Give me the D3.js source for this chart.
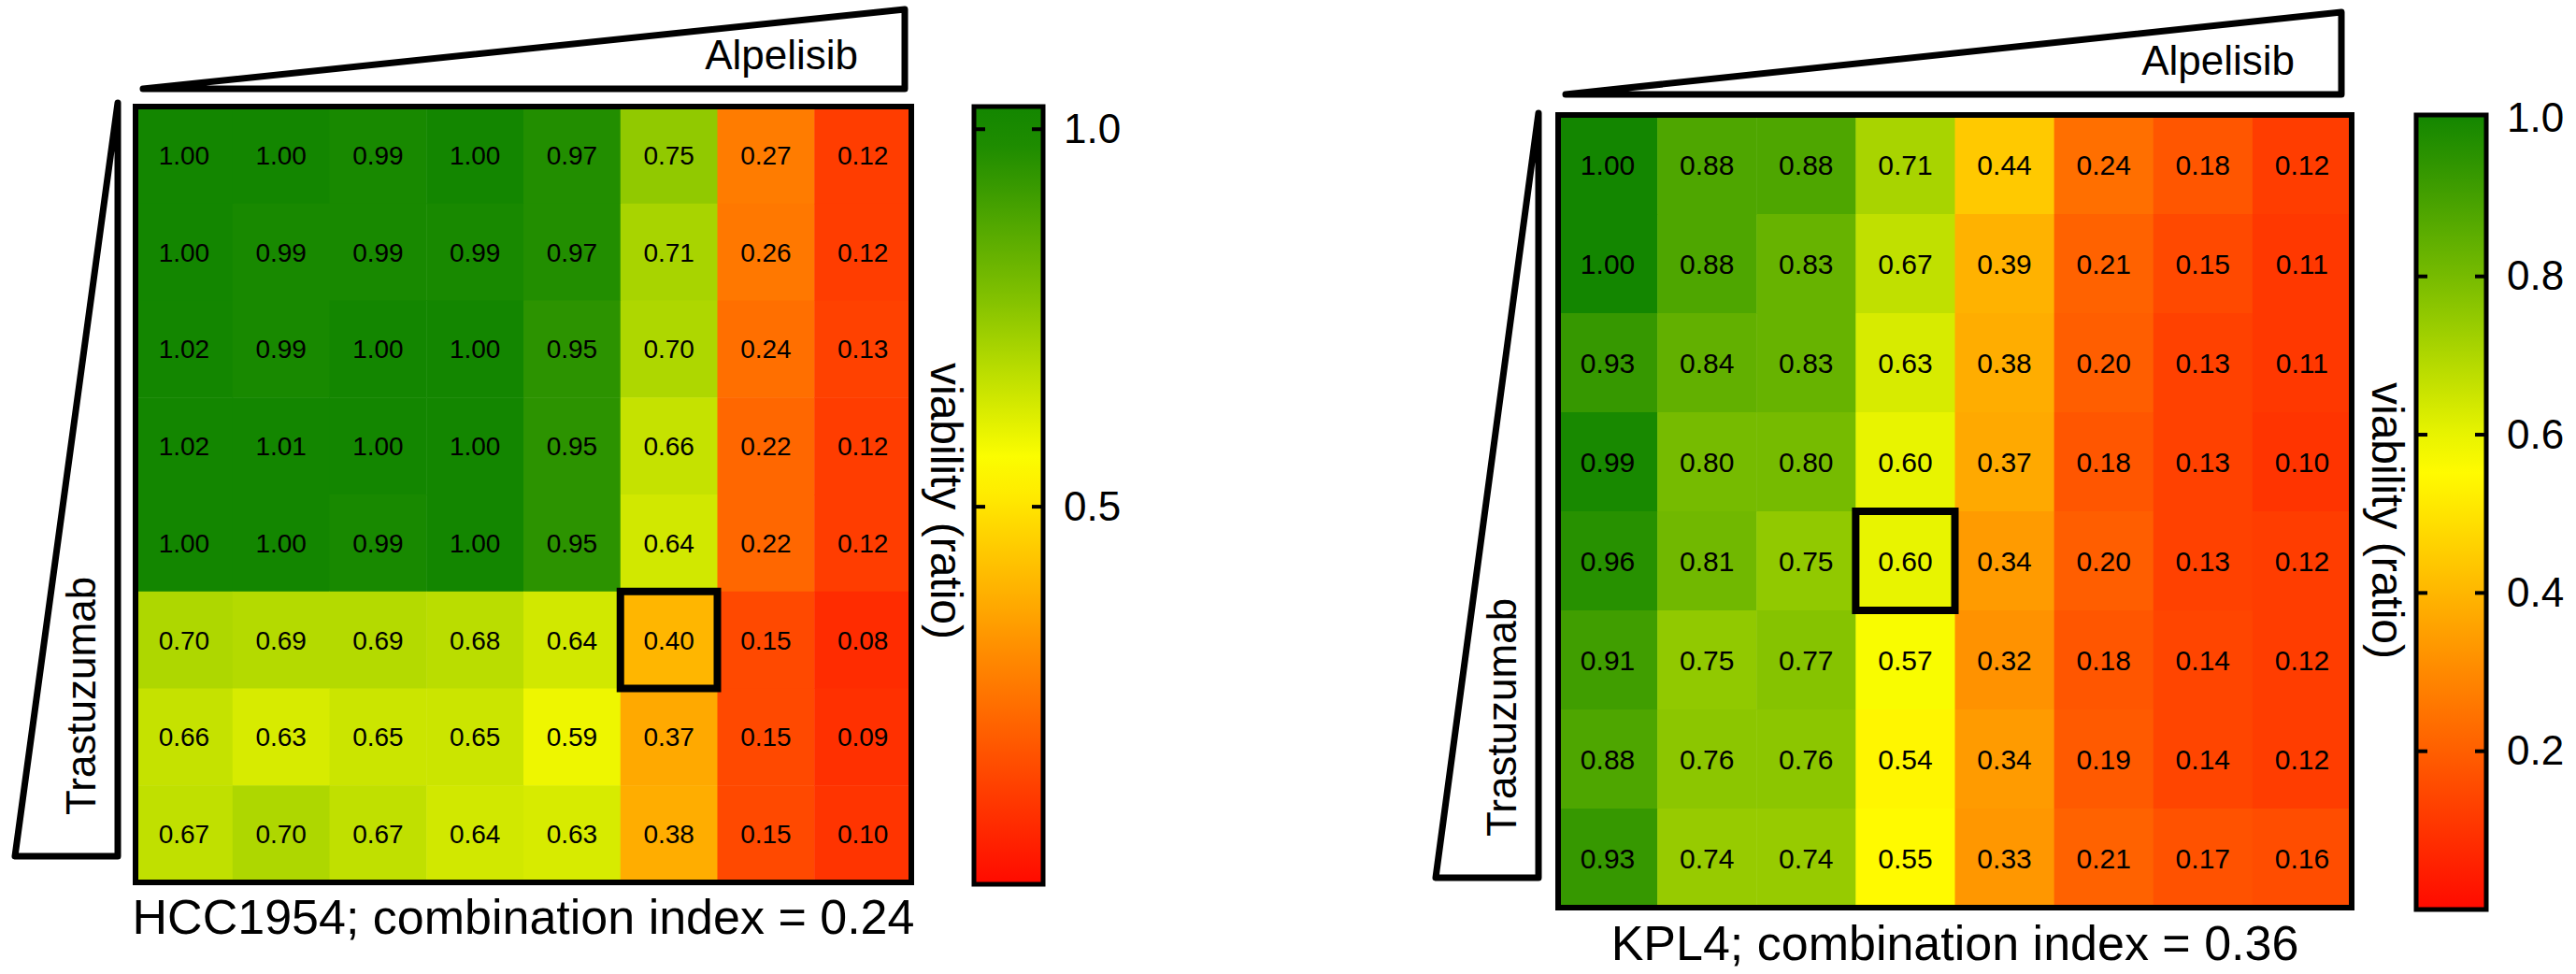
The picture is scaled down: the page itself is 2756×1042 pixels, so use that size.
<!doctype html>
<html lang="en">
<head>
	<meta charset="UTF-8">
	<title>Alpelisib + Trastuzumab viability</title>
	<style type="text/css">
	body{
		margin: 0;
		background: #fff;
	}
	svg text{
		font-family: Arial, "Liberation Sans", sans-serif;
		fill: #000;
	}
	</style>
	<script type="text/javascript" src="https://cdn.jsdelivr.net/npm/d3@7"></script>
</head>
<body>
	<script type="text/javascript">
		// rows = trastuzumab dose (low at top), cols = alpelisib dose (low at left)
		var hccViability = [
			[1.00, 1.00, 0.99, 1.00, 0.97, 0.75, 0.27, 0.12],
			[1.00, 0.99, 0.99, 0.99, 0.97, 0.71, 0.26, 0.12],
			[1.02, 0.99, 1.00, 1.00, 0.95, 0.70, 0.24, 0.13],
			[1.02, 1.01, 1.00, 1.00, 0.95, 0.66, 0.22, 0.12],
			[1.00, 1.00, 0.99, 1.00, 0.95, 0.64, 0.22, 0.12],
			[0.70, 0.69, 0.69, 0.68, 0.64, 0.40, 0.15, 0.08],
			[0.66, 0.63, 0.65, 0.65, 0.59, 0.37, 0.15, 0.09],
			[0.67, 0.70, 0.67, 0.64, 0.63, 0.38, 0.15, 0.10]
		];
		var kplViability = [
			[1.00, 0.88, 0.88, 0.71, 0.44, 0.24, 0.18, 0.12],
			[1.00, 0.88, 0.83, 0.67, 0.39, 0.21, 0.15, 0.11],
			[0.93, 0.84, 0.83, 0.63, 0.38, 0.20, 0.13, 0.11],
			[0.99, 0.80, 0.80, 0.60, 0.37, 0.18, 0.13, 0.10],
			[0.96, 0.81, 0.75, 0.60, 0.34, 0.20, 0.13, 0.12],
			[0.91, 0.75, 0.77, 0.57, 0.32, 0.18, 0.14, 0.12],
			[0.88, 0.76, 0.76, 0.54, 0.34, 0.19, 0.14, 0.12],
			[0.93, 0.74, 0.74, 0.55, 0.33, 0.21, 0.17, 0.16]
		];
		// highlighted [row, col]
		var hccHighlight = [5, 5];
		var kplHighlight = [4, 3];
		var hccTicks = [0.5, 1.0];
		var kplTicks = [0.2, 0.4, 0.6, 0.8, 1.0];
		var hccTitle = 'HCC1954; combination index = 0.24';
		var kplTitle = 'KPL4; combination index = 0.36';

		var W = 2756, H = 1042;

		var color = d3.scaleLinear()
			.domain([0, 0.28, 0.56, 0.78, 1.0])
			.range(['#ff0a00', '#ff8000', '#ffff00', '#80c000', '#138600'])
			.clamp(true);

		var svg = d3.select('body')
					.append('svg')
					.attr('width', W)
					.attr('height', H);

		var defs = svg.append('defs');

		function drawPanel(p){
			var g = svg.append('g');
			var n = p.data.length;
			var x = d3.scaleBand().domain(d3.range(n)).range([p.x0, p.x1]);
			var y = d3.scaleBand().domain(d3.range(n)).range([p.y0, p.y1]);

			var cells = [];
			p.data.forEach(function(row, r){
				row.forEach(function(v, c){
					cells.push({r: r, c: c, v: v});
				});
			});

			g.selectAll('rect.cell')
				.data(cells)
				.enter()
				.append('rect')
				.attr('class', 'cell')
				.attr('x', function(d){ return x(d.c); })
				.attr('y', function(d){ return y(d.r); })
				.attr('width', x.bandwidth() + 0.5)
				.attr('height', y.bandwidth() + 0.5)
				.attr('fill', function(d){ return color(d.v); });

			g.selectAll('text.val')
				.data(cells)
				.enter()
				.append('text')
				.attr('class', 'val')
				.attr('x', function(d){ return x(d.c) + x.bandwidth()/2; })
				.attr('y', function(d){ return y(d.r) + y.bandwidth()/2; })
				.attr('dy', '0.36em')
				.attr('text-anchor', 'middle')
				.attr('font-size', p.valSize)
				.text(function(d){ return d.v.toFixed(2); });

			// heatmap frame
			g.append('rect')
				.attr('x', p.x0).attr('y', p.y0)
				.attr('width', p.x1 - p.x0).attr('height', p.y1 - p.y0)
				.attr('fill', 'none').attr('stroke', '#000').attr('stroke-width', 6);

			// highlighted combination
			g.append('rect')
				.attr('x', x(p.hi[1])).attr('y', y(p.hi[0]))
				.attr('width', x.bandwidth()).attr('height', y.bandwidth())
				.attr('fill', 'none').attr('stroke', '#000').attr('stroke-width', 8);

			// dose wedges
			var a = p.alp;
			g.append('polygon')
				.attr('points', [[a[0], a[3]], [a[1], a[2]], [a[1], a[3]]].join(' '))
				.attr('fill', '#fff').attr('stroke', '#000').attr('stroke-width', 7)
				.attr('stroke-linejoin', 'round');
			g.append('text')
				.attr('x', a[1] - 50).attr('y', a[3] - 21)
				.attr('text-anchor', 'end')
				.attr('font-size', 44)
				.text('Alpelisib');

			var t = p.tra;
			g.append('polygon')
				.attr('points', [[t[1], t[2]], [t[0], t[3]], [t[1], t[3]]].join(' '))
				.attr('fill', '#fff').attr('stroke', '#000').attr('stroke-width', 7)
				.attr('stroke-linejoin', 'round');
			g.append('text')
				.attr('transform', 'translate(' + (t[1] - 24) + ',' + (t[3] - 44) + ') rotate(-90)')
				.attr('text-anchor', 'start')
				.attr('font-size', 44)
				.text('Trastuzumab');

			// colour bar
			var cb = p.cb;
			var cy = d3.scaleLinear().domain(p.cbDomain).range([cb[3], cb[2]]);
			var gid = 'grad' + p.id;
			var grad = defs.append('linearGradient')
				.attr('id', gid)
				.attr('x1', 0).attr('y1', 1).attr('x2', 0).attr('y2', 0);
			grad.selectAll('stop')
				.data(d3.range(0, 1.0001, 0.05))
				.enter()
				.append('stop')
				.attr('offset', function(d){ return d; })
				.attr('stop-color', function(d){
					return color(p.cbDomain[0] + d*(p.cbDomain[1] - p.cbDomain[0]));
				});
			g.append('rect')
				.attr('x', cb[0]).attr('y', cb[2])
				.attr('width', cb[1] - cb[0]).attr('height', cb[3] - cb[2])
				.attr('fill', 'url(#' + gid + ')')
				.attr('stroke', '#000').attr('stroke-width', 5);

			// little inward tick marks on both sides of the bar
			p.ticks.filter(function(v){ return cy(v) > cb[2] + 6; }).forEach(function(v){
				[[cb[0], cb[0] + 12], [cb[1] - 12, cb[1]]].forEach(function(s){
					g.append('line')
						.attr('x1', s[0]).attr('x2', s[1])
						.attr('y1', cy(v)).attr('y2', cy(v))
						.attr('stroke', '#000').attr('stroke-width', 4);
				});
			});

			var axis = d3.axisRight(cy)
				.tickValues(p.ticks)
				.tickFormat(d3.format('.1f'))
				.tickSize(0)
				.tickPadding(0);
			var ax = g.append('g')
				.attr('transform', 'translate(' + (cb[1] + 22) + ',0)')
				.call(axis);
			ax.select('.domain').remove();
			ax.selectAll('text')
				.attr('font-family', 'Arial, "Liberation Sans", sans-serif')
				.attr('font-size', 44)
				.attr('fill', '#000');

			g.append('text')
				.attr('transform', 'translate(' + p.labX + ',' + ((cb[2] + cb[3])/2 + p.labDy) + ') rotate(90)')
				.attr('text-anchor', 'middle')
				.attr('dy', '0.35em')
				.attr('font-size', 48)
				.text('viability (ratio)');

			g.append('text')
				.attr('x', (p.x0 + p.x1)/2)
				.attr('y', p.titleY)
				.attr('text-anchor', 'middle')
				.attr('font-size', 52)
				.text(p.title);
		}

		drawPanel({
			id: 'hcc', data: hccViability, hi: hccHighlight, ticks: hccTicks, title: hccTitle,
			x0: 145, x1: 975, y0: 114, y1: 944, valSize: 28,
			alp: [153, 968, 10, 95], tra: [16, 126, 110, 916],
			cb: [1042, 1116, 114, 946], cbDomain: [0, 1.03],
			labX: 1013, labDy: 6, titleY: 999
		});
		drawPanel({
			id: 'kpl', data: kplViability, hi: kplHighlight, ticks: kplTicks, title: kplTitle,
			x0: 1667, x1: 2516, y0: 123, y1: 971, valSize: 30,
			alp: [1675, 2505, 13, 101], tra: [1536, 1646, 121, 939],
			cb: [2585, 2660, 123, 973], cbDomain: [0, 1.004],
			labX: 2555, labDy: 9, titleY: 1027
		});
	</script>
</body>
</html>
